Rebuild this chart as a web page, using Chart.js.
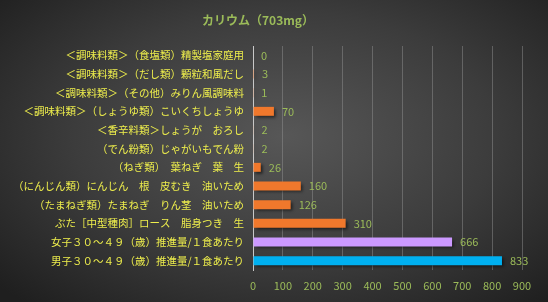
<!DOCTYPE html>
<html>
<head>
<meta charset="utf-8">
<script src="https://cdn.jsdelivr.net/npm/chart.js@4"></script>
<style>
  html, body { margin: 0; padding: 0; }
  body {
    width: 548px; height: 302px; overflow: hidden;
    background: radial-gradient(ellipse 70% 75% at 52% 45%, #575757 0%, #3c3c3c 55%, #1f1f1f 100%);
  }
  #wrap { position: relative; width: 548px; height: 302px; }
</style>
</head>
<body>
<div id="wrap"><canvas id="kaliumChart" width="548" height="302"></canvas></div>
<script>
// タイトル
const chartTitle = 'カリウム（703mg）';

// 食品名（上から順）
const labels = [
  '＜調味料類＞（食塩類）精製塩家庭用',
  '＜調味料類＞（だし類）顆粒和風だし',
  '＜調味料類＞（その他）みりん風調味料',
  '＜調味料類＞（しょうゆ類）こいくちしょうゆ',
  '＜香辛料類＞しょうが　おろし',
  '（でん粉類）じゃがいもでん粉',
  '（ねぎ類）　葉ねぎ　葉　生',
  '（にんじん類）にんじん　根　皮むき　油いため',
  '（たまねぎ類）たまねぎ　りん茎　油いため',
  'ぶた［中型種肉］ロース　脂身つき　生',
  '女子３０～４９（歳）推進量/１食あたり',
  '男子３０～４９（歳）推進量/１食あたり'
];

// カリウム量 (mg)
const values = [0, 3, 1, 70, 2, 2, 26, 160, 126, 310, 666, 833];

// バーの色
const barColors = [
  '#F0782C', '#F0782C', '#F0782C', '#F0782C', '#F0782C', '#F0782C',
  '#F0782C', '#F0782C', '#F0782C', '#F0782C', '#CC99FF', '#00B0F0'
];

const xTicks = [0, 100, 200, 300, 400, 500, 600, 700, 800, 900];

const FONT = "'Noto Sans CJK JP', 'Noto Sans', sans-serif";

// バーの影
const barShadow = {
  id: 'barShadow',
  beforeDatasetsDraw(chart) {
    const ctx = chart.ctx;
    ctx.save();
    ctx.shadowColor = 'rgba(0,0,0,0.55)';
    ctx.shadowOffsetX = 2;
    ctx.shadowOffsetY = 2;
    ctx.shadowBlur = 3;
  },
  afterDatasetsDraw(chart) {
    chart.ctx.restore();
  }
};

// 値ラベルとタイトルを描くプラグイン
const valueLabels = {
  id: 'valueLabels',
  afterDraw(chart) {
    const ctx = chart.ctx;
    const meta = chart.getDatasetMeta(0);
    ctx.save();
    ctx.font = '11px ' + FONT;
    ctx.fillStyle = '#9BBB59';
    ctx.textAlign = 'left';
    ctx.textBaseline = 'middle';
    meta.data.forEach((bar, i) => {
      ctx.fillText(String(values[i]), bar.x + 8, bar.y);
    });
    ctx.font = 'bold 12px ' + FONT;
    ctx.textAlign = 'center';
    ctx.fillText(chartTitle, 258, 20);
    ctx.restore();
  }
};

const chart = new Chart(document.getElementById('kaliumChart'), {
  type: 'bar',
  data: {
    labels: labels,
    datasets: [{
      data: values,
      backgroundColor: barColors,
      barPercentage: 0.48,
      categoryPercentage: 1.0,
    }],
  },
  options: {
    indexAxis: 'y',
    responsive: false,
    animation: false,
    layout: { padding: { top: 46, right: 26, left: 0, bottom: 0 } },
    plugins: {
      legend: { display: false },
      tooltip: { enabled: false },
    },
    scales: {
      x: {
        min: 0,
        max: 900,
        afterBuildTicks(scale) {
          scale.ticks = xTicks.map(v => ({ value: v }));
        },
        afterFit(scale) { scale.height = 32; },
        grid: { color: 'rgba(150,150,150,0.45)', drawTicks: false },
        border: { display: false },
        ticks: {
          color: '#9BBB59',
          font: { family: FONT, size: 11 },
          padding: 9,
        },
      },
      y: {
        afterFit(scale) { scale.width = 253; },
        grid: { display: false, drawTicks: false },
        border: { display: true, color: '#C8C8C8', width: 1 },
        ticks: {
          color: '#EEEE4C',
          font: { family: FONT, size: 10.5 },
          padding: 9,
          autoSkip: false,
        },
      },
    },
  },
  plugins: [barShadow, valueLabels],
});
</script>
</body>
</html>
